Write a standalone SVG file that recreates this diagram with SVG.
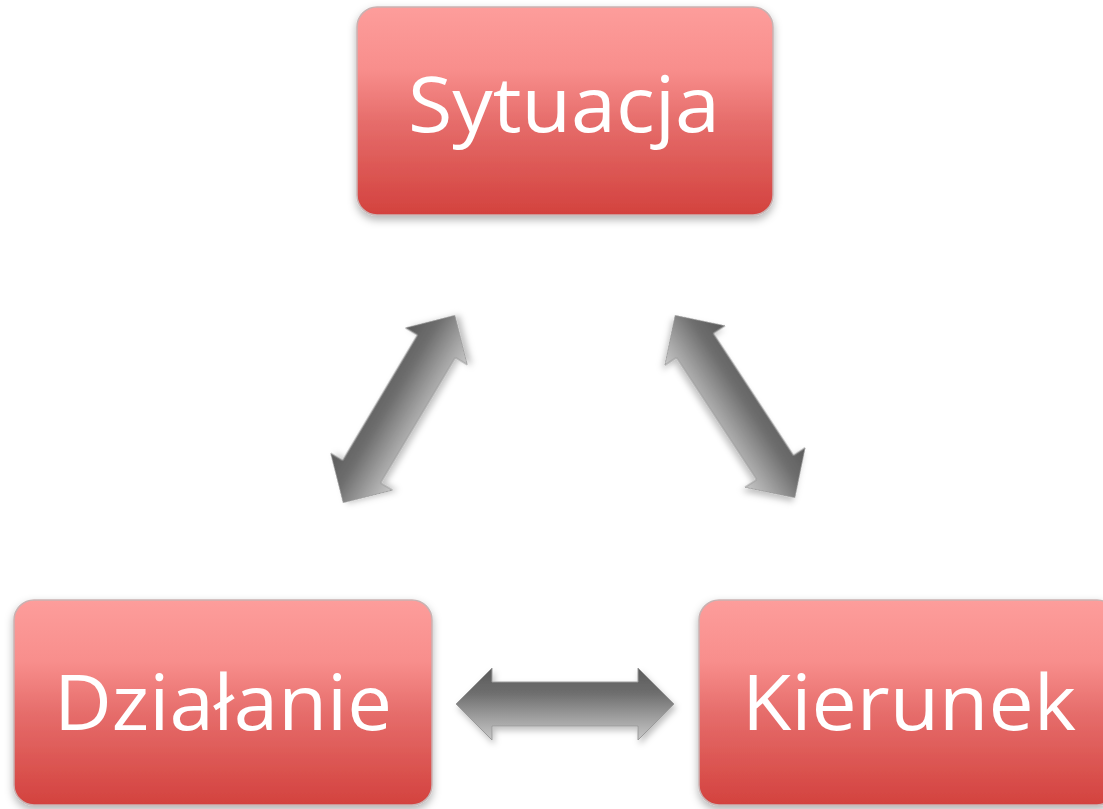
<svg xmlns="http://www.w3.org/2000/svg" width="1103" height="809" viewBox="0 0 1103 809">
<defs>
<linearGradient id="boxGrad" x1="0" y1="0" x2="0" y2="1">
<stop offset="0" stop-color="#fd9d9b"/>
<stop offset="0.3" stop-color="#f88e8c"/>
<stop offset="0.55" stop-color="#e66d6b"/>
<stop offset="1" stop-color="#d3423e"/>
</linearGradient>
<linearGradient id="arrowGrad" x1="0" y1="0" x2="0" y2="1">
<stop offset="0" stop-color="#5a5a5a"/>
<stop offset="0.35" stop-color="#6e6e6e"/>
<stop offset="0.7" stop-color="#a0a0a0"/>
<stop offset="1" stop-color="#c8c8c8"/>
</linearGradient>
<filter id="shadow" x="-10%" y="-10%" width="120%" height="130%">
<feDropShadow dx="0" dy="4" stdDeviation="4" flood-color="#000" flood-opacity="0.3"/>
</filter>
<filter id="ashadow" x="-20%" y="-30%" width="140%" height="160%">
<feDropShadow dx="2" dy="4" stdDeviation="3" flood-color="#000" flood-opacity="0.25"/>
</filter>
<path id="dblArrow" d="M -109 0 L -73 -36 L -73 -22 L 73 -22 L 73 -36 L 109 0 L 73 36 L 73 22 L -73 22 L -73 36 Z"/>
</defs>
<style>
.box { fill: url(#boxGrad); stroke: #c9b2b2; stroke-width: 1.5; filter: url(#shadow); }
.label { font-family: "Open Sans", "Noto Sans", "Liberation Sans", sans-serif; font-size: 76px; fill: #ffffff; text-anchor: middle; }
.arrow { fill: url(#arrowGrad); stroke: #9a9a9a; stroke-width: 1; filter: url(#ashadow); }
</style>
<rect width="1103" height="809" fill="#ffffff"/>
<g id="connectors">
<use href="#dblArrow" class="arrow" transform="translate(399 409) rotate(-59.2)"/>
<use href="#dblArrow" class="arrow" transform="translate(735 406.5) rotate(56.7)"/>
<use href="#dblArrow" class="arrow" transform="translate(565 704)"/>
</g>
<g id="node-sytuacja">
<rect class="box" x="357" y="7" width="416" height="208" rx="20" ry="20"/>
<text class="label" x="564" y="132" textLength="312" lengthAdjust="spacingAndGlyphs">Sytuacja</text>
</g>
<g id="node-dzialanie">
<rect class="box" x="14" y="600" width="418" height="205" rx="20" ry="20"/>
<text class="label" x="223" y="730" textLength="338" lengthAdjust="spacingAndGlyphs">Działanie</text>
</g>
<g id="node-kierunek">
<rect class="box" x="699" y="600" width="418" height="205" rx="20" ry="20"/>
<text class="label" x="909" y="730" textLength="334" lengthAdjust="spacingAndGlyphs">Kierunek</text>
</g>
</svg>
